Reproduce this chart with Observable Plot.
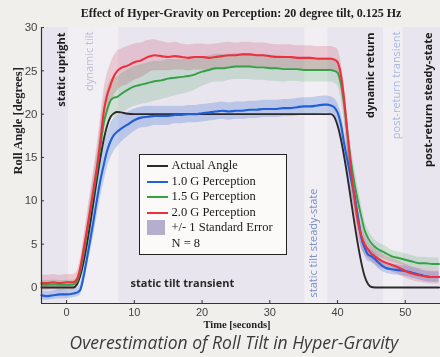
<!DOCTYPE html>
<html>
<head>
<meta charset="utf-8">
<script src="https://cdn.jsdelivr.net/npm/d3@7"></script>
<script src="https://cdn.jsdelivr.net/npm/@observablehq/plot@0.6"></script>
<style>
  html, body { margin: 0; padding: 0; }
  body { width: 440px; height: 357px; overflow: hidden; position: relative; background: #f1efec; }
  #title { height: 22px; line-height: 27px; padding-left: 42px; text-align: center; font-family: "Liberation Serif", serif; font-weight: bold; font-size: 12px; color: #1e1e1e; white-space: nowrap; }
  #chart { height: 308px; }
  #caption { height: 27px; line-height: 25px; padding-left: 28px; text-align: center; font-family: "Open Sans", sans-serif; font-style: italic; font-size: 17.5px; color: #3a3a3a; white-space: nowrap; }
  #legend { position: absolute; left: 139px; top: 154px; width: 146px; height: 96px; border: 1.5px solid #222; background: #fbfaf8; font-family: "Liberation Serif", serif; font-size: 12.5px; color: #1a1a1a; box-sizing: content-box; }
  #legend .row { position: relative; height: 15.5px; line-height: 15.5px; white-space: nowrap; }
  #legend .sw { position: absolute; left: 6.5px; width: 21px; }
  #legend .txt { position: absolute; left: 31.5px; top: 0; }
</style>
</head>
<body>
<div id="title">Effect of Hyper-Gravity on Perception: 20 degree tilt, 0.125 Hz</div>
<div id="chart"></div>
<div id="caption">Overestimation of Roll Tilt in Hyper-Gravity</div>
<div id="legend"></div>
<script>
// ---------------- data ----------------
const time = [-3.7,-3,-2,-1,0,1,1.5,2,2.5,3,3.5,4,4.5,5,5.5,6,6.5,7,7.5,8,9,10,11,12,13,14,15,16,17,18,19,20,21,22,23,24,25,26,27,28,29,30,31,32,33,34,35,36,37,38,38.5,39,39.5,40,40.5,41,41.5,42,42.5,43,43.5,44,44.5,45,45.5,46,47,48,49,50,51,52,53,54,55];

const actualAngle = [0,0,0,0,0,0,
  0.3,1.3,2.9,5.0,7.4,10.0,12.6,15.0,17.1,18.7,19.7,20.1,20.25,20.2,20.05,
  20,20,20,20,20,20,20,20,20,20,20,20,20,20,20,20,20,20,20,20,20,20,20,20,20,20,20,20,20,20,
  20,19.7,18.7,17.1,15.0,12.6,10.0,7.4,5.0,2.9,1.3,0.4,0.05,
  0,0,0,0,0,0,0,0,0,0,0];

const g10 = [-0.9,-1.0,-0.9,-0.8,-0.8,-0.7,
  -0.6,-0.3,1.2,3.3,5.5,7.8,10.2,12.4,14.2,15.8,16.9,17.6,18.0,18.3,18.8,
  19.3,19.6,19.7,19.8,19.8,19.8,19.9,19.9,20.0,20.0,20.1,20.2,20.3,20.4,20.3,20.4,20.4,20.5,20.5,20.6,20.6,20.6,20.7,20.7,20.8,20.9,20.9,21.0,21.1,21.1,
  21.0,20.8,20.2,18.8,16.5,14.5,12.5,10.6,8.2,5.8,4.6,3.8,3.6,
  3.3,2.9,2.3,2.1,2.0,1.9,1.7,1.5,1.3,1.2,1.2];

const g15 = [0.3,0.3,0.35,0.3,0.3,0.35,
  0.6,1.8,3.8,6.2,8.7,11.0,13.5,16.3,19.0,20.5,21.6,21.9,22.0,22.3,22.8,
  23.2,23.4,23.6,23.8,23.9,24.1,24.2,24.3,24.4,24.6,24.9,25.1,25.3,25.3,25.4,25.5,25.5,25.5,25.4,25.4,25.3,25.3,25.2,25.2,25.2,25.1,25.1,25.1,25.1,25.1,
  25.1,25.0,24.8,23.5,21.0,17.5,14.5,12.0,10.0,8.2,6.6,5.7,5.1,
  4.7,4.4,4.0,3.6,3.4,3.2,3.0,2.8,2.8,2.7,2.7];

const g20 = [0.5,0.5,0.6,0.5,0.6,0.6,
  0.9,2.2,4.3,6.6,9.0,11.5,14.0,17.0,20.3,22.2,23.4,24.4,25.0,25.3,25.6,
  26.0,26.2,26.6,26.8,26.7,26.6,26.7,26.6,26.5,26.6,26.6,26.5,26.6,26.7,26.8,26.8,26.9,26.9,26.8,26.8,26.7,26.6,26.6,26.6,26.5,26.5,26.5,26.4,26.4,26.4,
  26.4,26.3,26.0,24.5,21.5,17.5,13.5,10.3,7.6,6.0,5.0,4.4,3.9,
  3.6,3.3,2.9,2.6,2.3,1.9,1.6,1.4,1.3,1.2,1.2];

// standard errors (half widths of shaded bands)
const se10 = [0.5,0.5,0.5,0.5,0.5,0.5,
  0.5,0.6,0.9,1.2,1.5,1.8,2.0,2.1,2.1,2.0,2.0,1.9,1.8,1.6,1.4,
  1.3,1.2,1.2,1.1,1.1,1.1,1.0,1.0,1.0,1.0,1.0,1.0,1.0,1.0,1.0,1.0,1.0,1.0,1.0,1.0,1.0,1.0,1.0,1.0,1.0,1.0,1.0,1.0,1.0,1.0,
  1.0,1.0,1.1,1.3,1.5,1.6,1.6,1.5,1.3,1.1,0.9,0.8,0.7,
  0.7,0.7,0.6,0.6,0.6,0.6,0.6,0.6,0.6,0.6,0.6];

const se15 = [0.5,0.5,0.5,0.5,0.5,0.5,
  0.5,0.7,1.0,1.3,1.6,1.9,2.1,2.3,2.4,2.4,2.3,2.3,2.3,2.3,2.3,
  2.3,2.3,2.3,2.3,2.2,2.2,2.1,2.0,1.9,1.8,1.7,1.6,1.6,1.6,1.5,1.5,1.5,1.5,1.5,1.5,1.5,1.5,1.5,1.4,1.4,1.4,1.4,1.4,1.4,1.4,
  1.4,1.4,1.5,1.7,1.9,2.0,2.0,1.9,1.7,1.5,1.2,1.0,0.9,
  0.8,0.8,0.8,0.7,0.7,0.7,0.7,0.7,0.7,0.7,0.7];

const se20 = [0.9,0.9,0.9,0.9,0.9,0.9,
  0.9,1.0,1.3,1.6,1.9,2.1,2.3,2.4,2.4,2.4,2.4,2.3,2.3,2.2,2.2,
  2.1,2.0,1.9,1.8,1.7,1.6,1.6,1.5,1.5,1.5,1.5,1.5,1.5,1.5,1.5,1.4,1.4,1.4,1.4,1.4,1.4,1.4,1.4,1.4,1.4,1.4,1.4,1.4,1.4,1.4,
  1.4,1.4,1.5,1.6,1.8,1.9,1.9,1.8,1.6,1.4,1.2,1.0,0.9,
  0.9,0.9,0.8,0.8,0.8,0.8,0.8,0.8,0.8,0.8,0.8];

const seriesNames = ["Actual Angle", "1.0 G Perception", "1.5 G Perception", "2.0 G Perception"];
const seriesColors = ["#2a2a2a", "#1f5fd8", "#35a046", "#ee2f3d"];

// experiment phases (seconds)
const phaseStart = [-3.7, 0.3, 7.7, 35.2, 38.6, 46.8, 49.7];
const phaseEnd   = [0.3, 7.7, 35.2, 38.6, 46.8, 49.7, 55.2];
const phaseNames = ["static upright", "dynamic tilt", "static tilt transient", "static tilt steady-state", "dynamic return", "post-return transient", "post-return steady-state"];
// time at which each phase's label is written
const phaseLabelTime = [-1.33, 2.8, 17.1, 36.9, 44.2, 48.1, 52.8];

const yTicks = [0, 5, 10, 15, 20, 25, 30];
const xTicks = [0, 10, 20, 30, 40, 50];

// ---------------- chart ----------------
const xDomain = [-3.7, 55.2];
const yDomain = [-1.85, 30];

const rows = time.map((t, i) => ({t, a: actualAngle[i], b: g10[i], g: g15[i], r: g20[i],
  bl: g10[i] - se10[i], bh: g10[i] + se10[i],
  gl: g15[i] - se15[i], gh: g15[i] + se15[i],
  rl: g20[i] - se20[i], rh: g20[i] + se20[i]}));

const phases = phaseNames.map((name, i) => ({name, x1: phaseStart[i], x2: phaseEnd[i], lx: phaseLabelTime[i], shade: i % 2 === 0}));
const labelFont = "'Open Sans', sans-serif";
const topBold = phases.filter(p => ["static upright", "dynamic return", "post-return steady-state"].includes(p.name));
const topLight = phases.filter(p => ["dynamic tilt", "post-return transient"].includes(p.name));
const steady = phases.filter(p => p.name === "static tilt steady-state");
const transient = phases.filter(p => p.name === "static tilt transient");

const curve = "monotone-x";
const chart = Plot.plot({
  width: 440,
  height: 308,
  marginLeft: 41,
  marginRight: 0,
  marginTop: 5,
  marginBottom: 27,
  style: {background: "transparent", fontFamily: "'Liberation Sans', sans-serif", fontSize: "11px", color: "#444"},
  x: {domain: xDomain, ticks: xTicks},
  y: {domain: yDomain, ticks: yTicks},
  marks: [
    Plot.rect(phases, {x1: "x1", x2: "x2", fill: d => d.shade ? "#e9e5ef" : "#f1eff3"}),
    Plot.areaY(rows, {x: "t", y1: "rl", y2: "rh", fill: "#f3bcc8", fillOpacity: 0.6, curve, mixBlendMode: "multiply"}),
    Plot.areaY(rows, {x: "t", y1: "gl", y2: "gh", fill: "#c3e6c9", fillOpacity: 0.6, curve, mixBlendMode: "multiply"}),
    Plot.areaY(rows, {x: "t", y1: "bl", y2: "bh", fill: "#b6cdf4", fillOpacity: 0.7, curve, mixBlendMode: "multiply"}),
    Plot.lineY(rows, {x: "t", y: "a", stroke: seriesColors[0], strokeWidth: 1.9, curve}),
    Plot.lineY(rows, {x: "t", y: "b", stroke: seriesColors[1], strokeWidth: 2.1, curve}),
    Plot.lineY(rows, {x: "t", y: "g", stroke: seriesColors[2], strokeWidth: 1.9, curve}),
    Plot.lineY(rows, {x: "t", y: "r", stroke: seriesColors[3], strokeWidth: 2.1, curve}),
    Plot.text(topBold, {x: "lx", text: "name", frameAnchor: "top", dy: 5, rotate: -90, textAnchor: "end", fontFamily: labelFont, fontWeight: "bold", fontSize: 11, fill: "#1c1c1c"}),
    Plot.text(topLight, {x: "lx", text: "name", frameAnchor: "top", dy: 4, rotate: -90, textAnchor: "end", fontFamily: labelFont, fontSize: 11, fill: d => d.name === "dynamic tilt" ? "#c3bbd6" : "#a6b8de"}),
    Plot.text(steady, {x: "lx", text: "name", frameAnchor: "bottom", dy: -6, rotate: -90, textAnchor: "start", fontFamily: labelFont, fontSize: 11, fill: "#7a91c2"}),
    Plot.text(transient, {x: "lx", text: "name", frameAnchor: "bottom", dy: -17, textAnchor: "middle", fontFamily: labelFont, fontWeight: "bold", fontSize: 11, fill: "#2a2a2a"}),
    Plot.ruleX([xDomain[0]], {stroke: "#333", strokeWidth: 1.2}),
    Plot.ruleY([yDomain[0]], {stroke: "#333", strokeWidth: 1.2}),
    Plot.axisY({ticks: yTicks, tickSize: -3, tickPadding: 7, label: null, stroke: "#333", fill: "#444", fontSize: 11.5}),
    Plot.axisX({ticks: xTicks, tickSize: -3, tickPadding: 8, label: null, stroke: "#333", fill: "#444", fontSize: 11}),
    Plot.text(["Roll Angle [degrees]"], {frameAnchor: "left", dx: -24, dy: 9, rotate: -90, fontFamily: "'Liberation Serif', serif", fontWeight: "bold", fontSize: 12.5, fill: "#222"}),
    Plot.text(["Time [seconds]"], {frameAnchor: "bottom", dx: -4, dy: 24, fontFamily: "'Liberation Serif', serif", fontWeight: "bold", fontSize: 10.5, fill: "#222"})
  ]
});
document.getElementById("chart").appendChild(chart);

// ---------------- legend ----------------
const legend = document.getElementById("legend");
legend.style.paddingTop = "3px";
const entries = seriesNames.map((n, i) => ({n, c: seriesColors[i], kind: "line"}))
  .concat([{n: "+/- 1 Standard Error", c: "#b4afcc", kind: "box"}, {n: "N = 8", kind: "none"}]);
entries.forEach(e => {
  const row = document.createElement("div");
  row.className = "row";
  if (e.kind === "line") {
    const s = document.createElement("div");
    s.className = "sw";
    s.style.top = "7px"; s.style.height = "2.4px"; s.style.background = e.c;
    row.appendChild(s);
  } else if (e.kind === "box") {
    const s = document.createElement("div");
    s.className = "sw";
    s.style.top = "0px"; s.style.height = "15px"; s.style.width = "18px"; s.style.background = e.c;
    row.appendChild(s);
  }
  const t = document.createElement("span");
  t.className = "txt";
  t.textContent = e.n;
  row.appendChild(t);
  legend.appendChild(row);
});
</script>
</body>
</html>
